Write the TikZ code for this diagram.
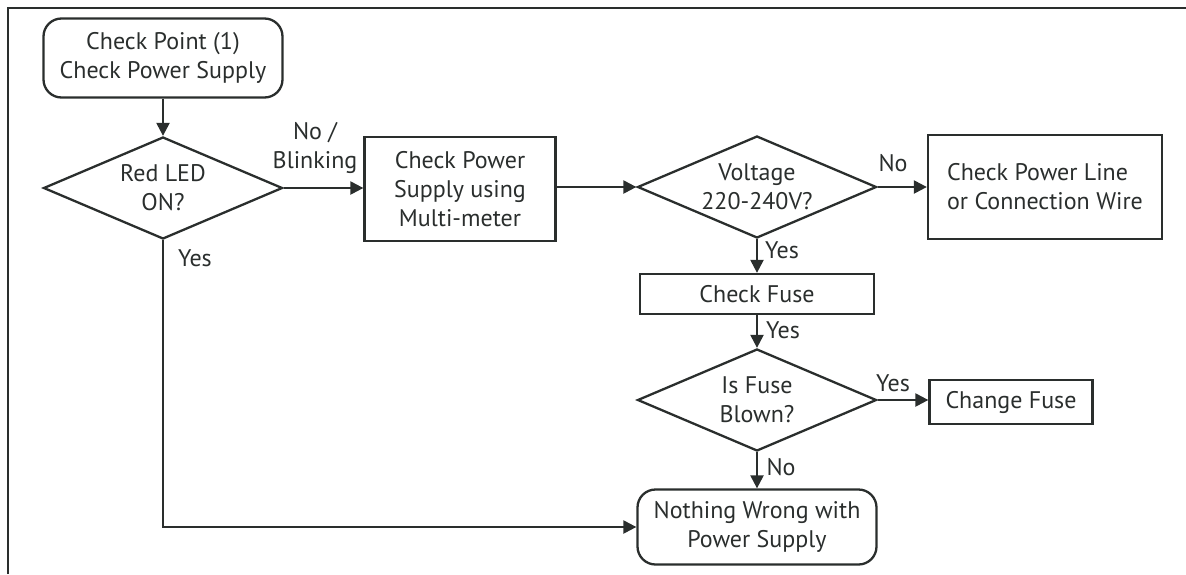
\documentclass[tikz,border=0pt]{standalone}
\usepackage{fontspec}
\setmainfont{PT Sans}
\usetikzlibrary{shapes.geometric,arrows.meta}
\definecolor{inkgray}{RGB}{42,46,45}

\begin{document}
\begin{tikzpicture}[x=1pt,y=-1pt,color=inkgray,line width=2.3pt,
  every node/.style={font=\fontsize{24}{29}\selectfont},
  term/.style={draw,rounded corners=18pt,align=center,inner sep=0pt},
  proc/.style={draw,align=center,inner sep=0pt},
  decide/.style={draw,diamond,aspect=2.35,align=center,inner sep=0pt,
    minimum width=239pt,minimum height=102pt},
  arr/.style={-{Triangle[length=13pt,width=13pt]}}]
  \useasboundingbox (0,0) rectangle (1186,574);
  % Frame
  \draw[line width=2.6pt] (8,574) -- (8,8) -- (1186,8);
  % Boxes and decisions
  \node[term,minimum width=239pt,minimum height=79pt] (start) at (163,58)
    {Check Point (1)\\Check Power Supply};
  \node[decide] (led) at (163,188) {Red LED\\ON?};
  \node[proc,minimum width=191pt,minimum height=104pt] (meter) at (460,189)
    {Check Power\\Supply using\\Multi-meter};
  \node[decide] (volt) at (757,187) {Voltage\\220-240V?};
  \node[proc,align=left,minimum width=234pt,minimum height=104pt] (wire) at (1045,187)
    {Check Power Line\\or Connection Wire};
  \node[proc,minimum width=234pt,minimum height=40pt] (fuse) at (757,294) {Check Fuse};
  \node[decide] (blown) at (757,400) {Is Fuse\\Blown?};
  \node[proc,minimum width=163pt,minimum height=44pt] (change) at (1011,402) {Change Fuse};
  \node[term,minimum width=239pt,minimum height=75pt] (ok) at (757,527)
    {Nothing Wrong with\\Power Supply};
  % Connectors
  \draw[arr] (start) -- (led);
  \draw[arr] (led.east) -- (led.east -| meter.west);
  \draw[arr] (meter.east |- volt.west) -- (volt.west);
  \draw[arr] (volt) -- (wire);
  \draw[arr] (volt) -- (fuse);
  \draw[arr] (fuse) -- (blown);
  \draw[arr] (blown.east) -- (blown.east -| change.west);
  \draw[arr] (blown) -- (ok);
  \draw[arr] (led.south) |- (ok.west);
  % Labels
  \node[align=center] (lblblink) at (315,148) {No /\\Blinking};
  \node (lblno1) at (893,163) {No};
  \node (lblyes1) at (782,250) {Yes};
  \node (lblyes2) at (783,330) {Yes};
  \node (lblyes3) at (893,383) {Yes};
  \node (lblno2) at (781,467) {No};
  \node (lblyes4) at (195,258) {Yes};
\end{tikzpicture}
\end{document}
